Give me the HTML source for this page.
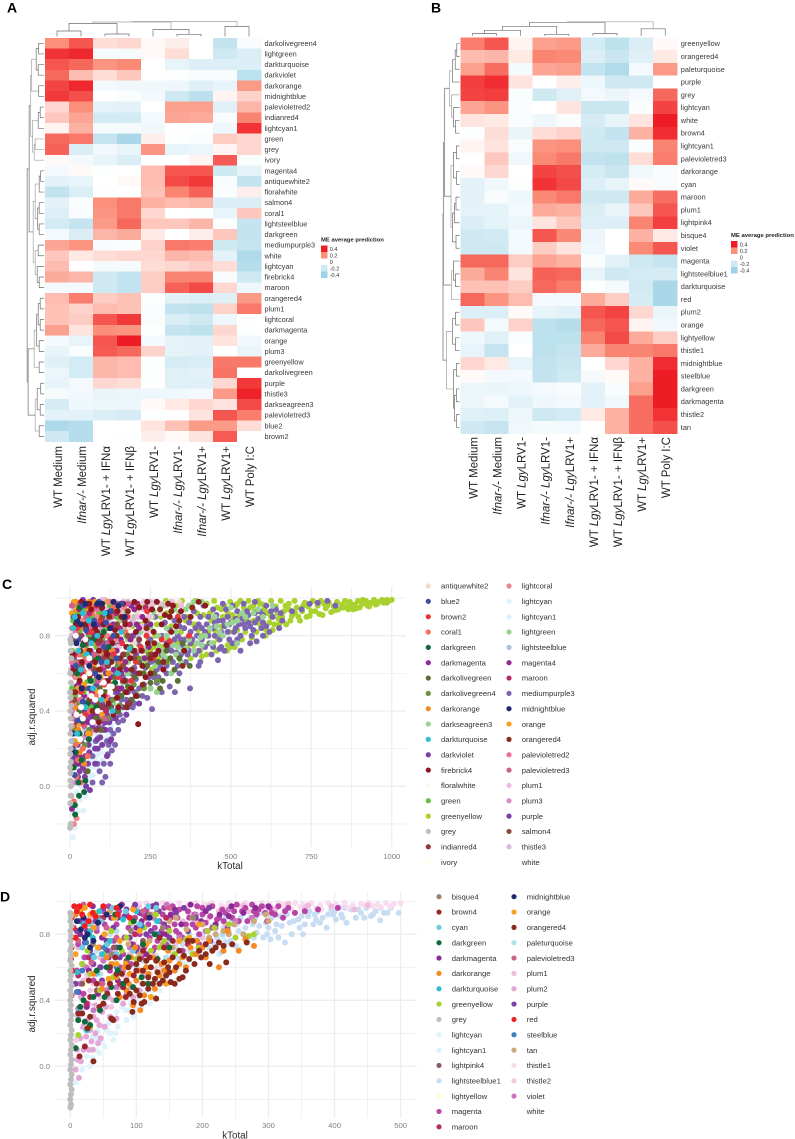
<!DOCTYPE html>
<html lang="en"><head><meta charset="utf-8"><title>ME heatmaps and scale-free fit scatter plots</title>
<style>
html,body{margin:0;padding:0;background:#fff}
svg{display:block;filter:blur(.35px);font-family:"Liberation Sans",sans-serif}
</style></head>
<body>
<svg id="fig" xmlns="http://www.w3.org/2000/svg" width="795" height="1139" viewBox="0 0 795 1139">
<text x="7" y="12.5" font-size="14" font-weight="bold">A</text>
<text x="431" y="12.5" font-size="14" font-weight="bold">B</text>
<text x="2" y="589" font-size="14" font-weight="bold">C</text>
<text x="0" y="901.5" font-size="14" font-weight="bold">D</text>
</svg>
<script>
/* ---------- Heatmap A ---------- */
const aRowLabels=["darkolivegreen4","lightgreen","darkturquoise","darkviolet","darkorange","midnightblue","palevioletred2","indianred4","lightcyan1","green","grey","ivory","magenta4","antiquewhite2","floralwhite","salmon4","coral1","lightsteelblue","darkgreen","mediumpurple3","white","lightcyan","firebrick4","maroon","orangered4","plum1","lightcoral","darkmagenta","orange","plum3","greenyellow","darkolivegreen","purple","thistle3","darkseagreen3","palevioletred3","blue2","brown2"];
const aColLabels=[["","WT Medium"],["Ifnar-/-"," Medium"],["WT ","Lgy","LRV1- + IFNα"],["WT ","Lgy","LRV1- + IFNβ"],["WT ","Lgy","LRV1-"],["Ifnar-/- Lgy","LRV1-"],["Ifnar-/- Lgy","LRV1+"],["WT ","Lgy","LRV1+"],["","WT Poly I:C"]];
const aValues=[
[.2,.3,.06,.07,.01,.03,0,-.25,-.03],[.36,.38,-.04,-.04,.01,.06,0,-.2,-.15],[.3,.27,.19,.21,0,-.1,-.14,-.14,-.14],[.27,.12,.06,.1,0,-.01,-.03,-.03,-.28],
[.33,.38,-.05,-.06,-.06,-.07,-.13,-.1,.18],[.35,.31,0,-.02,-.05,-.2,-.28,.02,.08],[.07,.2,-.11,-.12,0,.17,.17,-.13,.13],[.1,.16,-.18,-.18,-.05,.16,.15,-.03,.22],
[.02,.14,-.04,-.04,-.06,0,-.01,-.07,.36],[.27,.24,-.24,-.35,.03,-.01,-.02,.09,.07],[.28,-.15,-.06,-.1,.19,-.1,-.08,.02,.07],[.01,-.05,-.1,-.15,0,0,.02,.29,-.02],
[-.05,.01,-.01,0,.12,.3,.3,-.2,-.11],[-.12,-.1,0,.01,.12,.32,.35,-.03,-.25],[-.25,-.15,-.01,0,.11,.22,.28,-.02,.03],[-.12,-.02,.2,.24,.14,.12,.13,-.15,-.15],
[-.14,-.03,.19,.24,.07,0,-.01,-.1,.1],[-.18,-.24,.18,.27,.1,.1,.13,-.01,-.24],[-.05,-.15,.13,.15,.04,0,.03,.1,-.25],[.16,.19,-.03,-.02,.08,.24,.23,-.2,-.24],
[.1,.04,.06,.07,.07,.13,.12,-.12,-.33],[.12,0,-.04,-.04,.06,.07,.09,.06,-.3],[.15,.13,-.2,-.25,.09,.22,.22,-.03,-.2],[-.05,-.05,-.2,-.25,.09,.28,.32,.07,-.07],
[.12,.23,.09,.11,-.01,-.12,-.14,-.13,.18],[.11,.08,.12,.11,-.02,-.25,-.27,.08,.24],[.11,.09,.3,.35,-.02,-.15,-.2,-.07,0],[.17,.05,.2,.19,-.01,-.24,-.27,.07,-.01],
[-.05,-.1,.3,.4,-.05,-.11,-.12,.05,-.06],[-.1,-.03,.29,.27,.08,-.11,-.12,0,-.09],[-.13,-.18,.13,.12,-.01,-.17,-.16,.24,.24],[-.08,-.18,.13,.12,-.01,-.13,-.12,.25,0],
[-.1,-.05,.07,.06,-.01,-.13,-.13,.07,.35],[-.04,-.05,-.09,-.08,-.07,-.07,-.05,.18,.39],[-.17,-.07,-.08,-.08,.01,.04,.07,.05,.32],[-.12,-.12,-.15,-.17,-.01,0,.05,.3,.23],
[-.34,-.3,0,0,.05,.11,.18,.18,.06],[-.2,-.3,0,-.01,.03,.01,.05,.29,0]];
const aColTree=[15,[14.5,[13,[5.5,0,1],[2.5,2,3]],[7,4,[2.2,5,6]]],[10,7,8]];
const aRowTree=[17,[15,[13.5,[12.5,[8,[5.5,0,1],[6,2,3]],[5.5,4,5]],[11.5,[6,[4,6,7],8],[10,[9,9,10],11]]],[11,[9,[5,[3.5,12,13],14],[6.5,[5,15,16],[5,17,18]]],[9,[6,19,20],[7,21,[5,22,23]]]]],[16,[10,[7.5,[6,[4,24,25],[4,26,27]],[5,28,29]],[5,30,31]],[9,[7,[3.5,32,33],[4,34,35]],[5,36,37]]]];

/* ---------- Heatmap B ---------- */
const bRowLabels=["greenyellow","orangered4","paleturquoise","purple","grey","lightcyan","white","brown4","lightcyan1","palevioletred3","darkorange","cyan","maroon","plum1","lightpink4","bisque4","violet","magenta","lightsteelblue1","darkturquoise","red","plum2","orange","lightyellow","thistle1","midnightblue","steelblue","darkgreen","darkmagenta","thistle2","tan"];
const bColLabels=[["","WT Medium"],["Ifnar-/-"," Medium"],["WT ","Lgy","LRV1-"],["Ifnar-/- Lgy","LRV1-"],["Ifnar-/- Lgy","LRV1+"],["WT ","Lgy","LRV1- + IFNα"],["WT ","Lgy","LRV1- + IFNβ"],["WT ","Lgy","LRV1+"],["","WT Poly I:C"]];
const bValues=[
[.23,.3,.02,.17,.18,-.18,-.27,-.15,.01],[.12,.13,.04,.22,.21,-.15,-.22,-.13,.04],[.17,.26,-.04,.16,.17,-.25,-.32,-.05,.18],[.34,.37,.05,0,.03,-.07,-.2,-.2,0],
[.33,.34,-.02,-.2,-.13,-.05,-.08,-.05,.27],[.16,.19,-.02,0,.05,-.22,-.22,-.02,.33],[.05,.04,-.03,-.07,-.02,-.17,-.1,.05,.4],[-.01,.06,-.09,.06,.08,-.2,-.25,.14,.37],
[.02,.05,-.02,.19,.2,-.2,-.2,-.02,.22],[0,.1,-.06,.21,.24,-.25,-.27,.06,.23],[.01,.07,0,.33,.31,-.17,-.22,-.06,-.03],[-.12,-.06,-.01,.36,.32,-.14,-.1,.01,-.03],
[-.12,-.03,-.07,.21,.24,-.2,-.2,.15,.26],[-.11,-.11,-.05,.15,.14,-.15,-.09,.1,.3],[-.15,-.11,-.08,.05,.1,-.14,-.14,.22,.34],[-.2,-.19,-.05,.3,.21,-.08,0,.14,.04],
[-.2,-.2,-.05,.09,.05,-.07,0,.21,.3],[.27,.27,.09,.16,.14,-.02,-.12,-.2,-.24],[.15,.22,.05,.28,.27,-.1,-.2,-.18,-.17],[.11,.11,.09,.27,.23,-.01,-.04,-.19,-.35],
[.27,.19,.12,-.05,-.05,.15,.09,-.17,-.35],[-.14,-.14,.01,-.1,-.12,.3,.33,.07,-.09],[.1,-.05,.08,-.27,-.3,.27,.3,.02,-.06],[-.07,-.13,-.02,-.28,-.27,.22,.32,.15,.09],
[-.1,-.24,0,-.27,-.24,.15,.22,.22,.24],[.07,.04,-.1,-.25,-.22,0,.07,.14,.37],[.01,-.05,-.05,-.25,-.2,-.04,.01,.14,.4],[-.08,-.09,-.07,-.05,-.03,-.12,-.03,.17,.4],
[-.08,-.04,-.12,-.07,-.05,-.12,-.06,.26,.4],[-.13,-.14,-.07,-.2,-.18,.04,.14,.26,.36],[-.2,-.24,-.06,-.04,-.05,0,.14,.26,.31]];
const bColTree=[14,[13.5,[9.5,[5.5,[2.2,0,1],2],[1.5,3,4]],[2.2,5,6]],[7,7,8]];
const bRowTree=[16.5,[16,[15,[10,[7,[4.3,[2.7,0,1],2],3],[8,4,[6,5,[4,6,7]]]],[8.5,[6,[3,8,9],[3,10,11]],[7,[5,[3.5,12,13],14],[3.5,15,16]]]],[8,[6,17,[4,18,19]],20]],[13,[7,[4,21,22],[4,23,24]],[6,[3,25,26],[5,[3,27,28],[3,29,30]]]]];

const legendValues=[.4,.2,0,-.2,-.4];

/* ---------- Scatter C (kTotal, adj.r.squared pairs) ---------- */
const cLightcyan=[10,-.27,15,-.22,8,-.14,25,-.13,42,-.13,32,-.07,20,-.03,48,-.05,55,0,12,.02,30,.03,60,.05,40,.08,70,.1,85,.1,100,.14,110,.17,95,.2,75,.2,60,.16,50,.22,85,.25,105,.25,70,.28,90,.3,45,.3,120,.28,65,.12,78,.15,52,.1,88,.17,38,.16,102,.22,115,.26,96,.27,80,.31,68,.22,24,.11,34,.24,56,.32,74,.36,92,.38,110,.36,128,.32,62,.2,46,.14,82,.2];
const cLightcyan1=[18,-.1,35,0,22,.06,65,.14,80,.16,38,.15,28,.2,92,.18,62,.26,112,.22,78,.33,98,.36,55,.38,72,.06,44,.02,58,.11,108,.3,125,.33,90,.24,50,.27,66,.34,84,.28,104,.4,118,.42,140,.36];
const cGrey=[2,-.2,0,-.22,3,-.2,1,-.09,2,-.05,3,0,1,.03,2,.07,0,.1,3,.13,1,.17,2,.2,4,.24,1,.28,3,.32,2,.36,1,.4,4,.43,2,.47,0,.5,3,.55,1,.6,4,.68,2,.72,3,.76,1,.78];
const cGreenyellow=[1000,.99,990,.985,985,.99,975,.975,970,.99,960,.98,950,.965,945,.99,935,.975,925,.96,920,.985,910,.97,900,.95,895,.985,885,.965,880,.94,870,.98,860,.955,855,.985,845,.965,835,.94,830,.98,820,.955,812,.925,805,.975,795,.945,785,.91,780,.985,770,.96,762,.93,755,.985,745,.905,740,.955,730,.975,722,.93,715,.88,705,.95,698,.985,690,.905,680,.97,672,.86,665,.93,655,.985,648,.89,640,.955,630,.83,625,.985,615,.92,608,.8,600,.965,590,.86,585,.985,575,.93,565,.79,555,.985,548,.88,540,.95,530,.985,520,.83,512,.74,505,.91,498,.98,488,.72,480,.96,472,.85,465,.8,458,.95,448,.985,440,.88,432,.76,425,.97,415,.91,405,.72,398,.83,390,.985,380,.95,372,.87,365,.74,355,.78,348,.985,340,.92,330,.7,322,.95,315,.85,305,.78,298,.985,290,.74,282,.9,275,.68,265,.8,258,.97,250,.72,240,.88,230,.6,222,.95,215,.75,205,.5,195,.85,910,.99,870,.96,790,.97,750,.93,700,.92,660,.9,620,.87,570,.88,535,.78,495,.82,455,.72,420,.82,385,.75,345,.82,310,.66,245,.78,225,.68,985,.975,955,.97,930,.955,905,.98,890,.945,865,.94,850,.95,825,.935,800,.96,775,.915,735,.9,710,.9,685,.88,670,.96,645,.92,635,.86,610,.83,595,.9,580,.82,560,.95,545,.82,525,.9,515,.96,500,.74,475,.9,450,.83,435,.92,410,.69,395,.92,375,.68,360,.88,335,.76,300,.92,270,.86,255,.62,235,.72,210,.9,725,.96,680,.94,650,.86,625,.9,605,.94,590,.97,570,.96,550,.9,520,.97,505,.88,490,.92,470,.94,445,.76,425,.7,405,.8,385,.86,365,.9,330,.96,310,.9,285,.96,260,.74,240,.66,220,.86,200,.8,180,.9,490,.75,460,.78,430,.82];
const cMediumpurple=[373,.52,326,.5,310,.53,255,.41,340,.6,400,.64,405,.66,460,.67,470,.74,530,.72,580,.77,620,.82,650,.84,600,.8,560,.76,505,.76,480,.72,440,.7,420,.74,390,.7,360,.66,300,.6,285,.5,270,.55,240,.47,220,.6,200,.5,180,.42,165,.35,150,.3,140,.22,130,.19,125,.12,110,.05,100,.02,420,.82,450,.8,480,.85,510,.82,540,.86,570,.83,600,.87,630,.9,660,.88,690,.93,720,.94,745,.97,770,.975,800,.985,825,.96,590,.93,555,.91,520,.93,490,.9,460,.88,430,.9,400,.86,375,.82,350,.75,330,.71,300,.76,275,.72,250,.66,225,.72,200,.63,175,.56,160,.46,145,.4,125,.3,115,.24,640,.94,610,.96,575,.98,540,.97,505,.96,475,.97,445,.94,415,.96,385,.93,355,.9,325,.88,295,.87,265,.9,235,.85,560,.85,530,.8,495,.78,465,.78,435,.76,410,.78,380,.78,345,.7,315,.72,280,.64,260,.58,230,.54,190,.6,170,.7,70,.02,85,.12,60,.25,95,.3,75,.42,105,.5,130,.6,150,.75,120,.9,610,.85,585,.89,565,.8,545,.84,525,.86,500,.87,470,.82,445,.84,425,.86,395,.8,370,.72,355,.84,335,.8,320,.66,295,.68,270,.62,245,.58,215,.52,195,.42,175,.46,155,.38,135,.28,118,.17,105,.12,92,.08,655,.92,625,.93,600,.91,575,.87,550,.93,515,.89,485,.94,455,.91,405,.9,370,.87,340,.85,310,.83,285,.8,250,.78,210,.76,185,.68,165,.58,140,.5,115,.42,95,.45,80,.24,70,.16,88,.36,102,.33,595,.84,575,.92,555,.87,535,.89,515,.84,495,.86,475,.88,450,.87,430,.8,410,.84,390,.84,375,.76,360,.78,345,.78,325,.78,305,.74,285,.7,265,.66,235,.63,205,.57,180,.5,150,.48,130,.36,110,.34,520,.78,490,.82,465,.73,445,.74,400,.72,365,.7,335,.64,300,.64,275,.58,250,.52,225,.48,200,.44,175,.38,150,.34,120,.22];
const cSeagreen=[350,.72,370,.78,395,.76,420,.8,440,.76,465,.82,490,.86,520,.88,545,.9,570,.92,600,.9,630,.96,330,.7,300,.68,275,.8,255,.9,240,.74,220,.82,200,.9,180,.78,340,.92,370,.96,450,.9,500,.95,160,.68,130,.8,110,.92,95,.62,385,.72,410,.75,455,.85,505,.87,535,.92,585,.94,320,.75,290,.72,265,.7,210,.68,335,.74,360,.73,405,.79,435,.84,475,.8,520,.76,300,.8,250,.84];
const cLightgreen=[60,.98,85,.96,110,.9,140,.95,170,.92,200,.86,235,.97,260,.93,290,.96,120,.7,150,.74,180,.66,205,.72,235,.58,265,.64,90,.82,70,.7,45,.84,100,.5,135,.44,30,.64,20,.96,125,.98,155,.88,185,.97,215,.95,250,.84,275,.75,300,.84,325,.94,165,.55,190,.52,110,.6,80,.55,55,.45,40,.95,75,.9,145,.66,225,.66,250,.52,330,.82,360,.94,290,.7,315,.6,270,.5,215,.6,180,.6,345,.66,385,.98,410,.98];
const cAntique=[15,.95,30,.9,45,.98,62,.8,78,.93,95,.85,112,.97,130,.9,150,.8,170,.98,190,.7,210,.92,240,.97,20,.72,40,.66,70,.55,100,.6,135,.56,165,.5,55,.9,88,.91,105,.79,122,.86,142,.94,160,.88,182,.84,200,.76,225,.84,262,.98,280,.92,12,.82,35,.78,60,.72,300,.97,320,.98,340,.98,250,.9];
const cBlue2=[12,.9,26,.78,40,.96,58,.7,75,.88,90,.98,105,.74,125,.93,145,.68,160,.97,8,.2,14,.06,25,.35,40,.45,60,.52,50,.83,98,.66,135,.8,112,.87,78,.6,18,.64];
const cBrown2=[10,.62,22,.84,35,.5,52,.96,70,.6,88,.78,106,.54,122,.85,150,.58,178,.9,205,.66,238,.8,5,.44,28,.28,48,.38,310,.77,240,.93,65,.82,95,.88,135,.7,162,.76,190,.56,220,.74,258,.68,285,.78,335,.9,370,.8];
const cCoral=[8,.5,18,.22,28,.7,42,.88,55,.16,68,.92,80,.48,96,.67,115,.8,135,.95,155,.66,6,.1,20,.05,33,.02,12,-.08,48,.68,62,.4,88,.97,105,.72,172,.82,25,.14,40,.2];
const cDarkgreen=[12,.1,18,.18,26,.02,36,.14,28,-.05,15,-.1,44,-.03,48,.03,30,.28,58,.25,22,.6,40,.75,64,.56,88,.68,105,.82,30,.95,16,-.15,72,.78,52,.44,38,.35,82,.42,120,.74,140,.55];
const cDarkmagenta=[8,.24,14,.38,20,.53,30,.7,38,.92,48,.16,56,.34,66,.6,75,.8,85,.5,95,.94,108,.42,120,.7,135,.86,150,.52,175,.62,190,.96,6,-.12,12,.68,26,.12,44,.48,62,.9,100,.74,128,.58,158,.78,208,.86,232,.68,25,.42,72,.36,95,.42,125,.46,205,.6,250,.86];
const cOlive=[30,.4,48,.6,65,.46,80,.36,96,.3,110,.5,125,.42,140,.58,160,.48,180,.53,200,.58,228,.6,250,.55,275,.66,300,.72,325,.62,350,.76,40,.14,55,.08,72,.68,92,.52,118,.6,152,.66,172,.5,192,.46,215,.66,240,.64,262,.6,288,.56,312,.68,340,.68,372,.64,335,.56,280,.52,210,.48,150,.4];
const cOlive4=[35,.62,50,.75,72,.9,88,.58,102,.7,118,.36,133,.46,148,.64,168,.56,188,.74,212,.68,46,.22,60,.3,25,.44,15,.3,58,.52,82,.76,110,.56,125,.68,155,.43,178,.7,198,.54,245,.7,230,.52,270,.56,300,.66,100,.36];
const cDarkorange=[8,.32,16,.42,26,.3,38,.58,50,.72,62,.28,74,.64,86,.42,28,.97,18,.98,60,.98,100,.9,120,.6,8,.96,44,.12,30,.18,55,.6,70,.95,42,.84,110,.46,132,.72];
const cDarkturquoise=[10,.84,22,.28,34,.62,48,.42,58,.88,72,.52,85,.8,98,.46,115,.66,132,.4,160,.82,185,.73,6,.24,15,.9,40,.92,26,.72,52,.7,66,.76,108,.92,148,.6];
const cDarkviolet=[14,.16,24,.44,34,.24,44,.6,54,.36,64,.72,78,.2,92,.38,105,.63,122,.34,138,.72,160,.6,195,.8,25,.05,40,.1,50,.0,62,-.02,70,.32,85,.25,100,.22,115,.38,130,.46,148,.5,175,.38,35,.52,58,.22,82,.54,178,.74,205,.7,40,.34,68,.44,88,.31,110,.3,128,.25,165,.42,190,.46,215,.44];
const cFirebrick=[18,.86,30,.56,42,.76,54,.44,66,.94,78,.66,90,.34,104,.86,118,.56,132,.76,146,.47,160,.9,175,.74,190,.52,205,.82,212,.33,225,.64,242,.76,255,.94,270,.98,285,.86,300,.75,320,.96,345,.93,420,.96,165,.97,200,.98,8,.7,25,.9,12,.62,37,.66,60,.72,84,.82,100,.95,115,.7,140,.83,155,.62,172,.86,188,.68,222,.72,235,.88,260,.82,275,.72,295,.91,330,.85,60,.97,35,.98,128,.66,148,.93,215,.95,250,.6,195,.72,78,.84,48,.86,105,.48,135,.38,90,.72,240,.98,310,.9,175,.5,205,.48,235,.58,265,.7,290,.62,315,.82,355,.72,375,.9,400,.98,120,.44,150,.42];
const cFloral=[14,.55,40,.4,78,.72,110,.62,150,.88,60,.95,95,.34,125,.82,200,.96];
const cGreen=[6,.72,12,.78,18,.66,24,.58,30,.82,36,.94,42,.5,50,.68,58,.8,66,.42,74,.56,82,.74,90,.92,20,.97,45,.94,8,.6,16,.48,28,.7,125,.96,70,.9,100,.78,10,.88,22,.92,38,.7,54,.56,78,.5,95,.62,112,.84,145,.9,6,.52,34,.46,62,.64,118,.64,150,.6,175,.8];
const cIndian=[8,.78,24,.62,40,.52,60,.46,82,.3,100,.42,118,.64,140,.52,165,.7,185,.44,215,.78,252,.7,50,.76,130,.93,170,.88,95,.77];
const cLightcoral=[6,.84,16,.58,30,.36,46,.78,66,.62,84,.9,102,.56,122,.98,142,.78,168,.95,20,-.17,12,-.2,5,.36,38,.88,58,.96,92,.7,112,.8,12,.44];
const cSteel=[10,.42,24,.92,38,.7,56,.56,72,.97,90,.66,110,.95,48,.3,88,.26,60,.4,130,.74,155,.92,180,.98,210,.8];
const cMagenta4=[10,.64,22,.34,36,.8,48,.52,62,.98,76,.38,90,.72,104,.3,118,.84,136,.62,152,.96,172,.66,200,.94,225,.9,16,.12,50,.08,30,.16,42,.7,68,.66,84,.58,98,.88,112,.6,128,.42,145,.72,160,.52,188,.78,215,.84,26,.54,180,.44,245,.74];
const cMaroon=[14,.7,28,.94,40,.34,54,.82,68,.5,82,.96,96,.62,112,.4,126,.78,144,.92,164,.56,186,.86,210,.97,36,.6,60,.92,88,.76,105,.68,135,.98,155,.84,235,.95];
const cMidnight=[10,.28,20,.76,34,.86,48,.97,60,.64,74,.86,90,.58,112,.92,135,.98,170,.9,22,.88,36,.52,85,.97,6,.18,50,.78,100,.97,150,.96,125,.84];
const cOrange=[6,.92,12,.98,22,.94,32,.86,44,.54,56,.28,70,.76,84,.5,100,.38,38,.96,28,.24,30,.33,16,.24,10,.36,25,.52,58,.94,78,.98,95,.58,115,.98];
const cOrangered=[16,.5,32,.72,50,.84,70,.4,90,.62,112,.72,134,.54,156,.68,176,.42,200,.72,226,.54,250,.68,280,.94,305,.97,4,.6,180,.93,315,.93,60,.58,78,.78,98,.8,122,.9,145,.8,170,.56,192,.62,215,.6,238,.84,262,.76,290,.66,340,.88,380,.95,350,.64];
const cPvr2=[6,.66,18,.82,32,.46,52,.66,72,.34,94,.74,116,.48,6,.4,40,.62,62,.84,82,.94,125,.92];
const cPvr3=[10,.36,26,.66,44,.32,64,.86,86,.56,108,.36,130,.9,6,.96,30,.97,150,.97,180,.97,50,.9,75,.7,102,.64,118,.76,145,.86];
const cPlum1=[8,.48,20,.9,34,.74,48,.92,62,.48,76,.66,90,.88,106,.8,122,.68,140,.98,158,.92,178,.97,198,.95,222,.85,245,.9,268,.98,95,.97,130,.98,70,.97,16,.78,42,.58,56,.76,84,.7,100,.99,115,.94,132,.84,152,.74,165,.98,185,.9,210,.9,230,.98,252,.96,280,.97,300,.96,36,.97,315,.98,345,.96,190,.78,215,.72,240,.82];
const cPlum3=[6,.3,16,.02,28,.4,42,.26,58,.72,74,.3,92,.52,4,-.05,10,-.1,7,.14,112,.88,135,.96,22,.5,46,.66,68,.84,84,.46,100,.84,125,.6];
const cPurple=[12,.32,24,.22,36,.34,46,.05,60,.18,72,.48,86,.2,100,.44,20,.93,55,.9,72,.99,120,.98,40,.99,88,.86,34,.84,10,.14,30,.08,52,.28,66,.38,78,.12,94,.26,108,.34,125,.24,142,.36,56,.12,112,.76,140,.68,44,.4,60,.42,80,.44,96,.36,115,.16,20,.3];
const cSalmon=[14,.46,36,.64,60,.78,88,.44,116,.68,146,.86,180,.8,28,.8,75,.62,100,.9,132,.52,165,.64,200,.68];
const cThistle=[8,.9,22,.7,40,.88,58,.6,78,.94,98,.74,120,.88,144,.96,168,.84,195,.88,230,.94,5,.8,3,.62,14,.94,30,.6,50,.97,68,.8,108,.99,132,.92,155,.94,180,.98,210,.97,250,.98];
const cIvory=[30,.8,65,.35,100,.96,140,.64];
const cWhite=[20,.38,32,.25,45,.58,60,.6,66,.48,78,.46,86,.4,105,.55,18,.8,48,.78,70,.34,130,.53,95,.5,40,.36,125,.5,60,.68,34,.42];
const cDrawOrder=[["lightcyan",cLightcyan],["lightcyan1",cLightcyan1],["greenyellow",cGreenyellow],["mediumpurple3",cMediumpurple],["darkseagreen3",cSeagreen],["lightsteelblue",cSteel],["antiquewhite2",cAntique],["floralwhite",cFloral],["ivory",cIvory],["lightgreen",cLightgreen],["thistle3",cThistle],["plum1",cPlum1],["plum3",cPlum3],["darkviolet",cDarkviolet],["purple",cPurple],["magenta4",cMagenta4],["darkmagenta",cDarkmagenta],["darkolivegreen",cOlive],["darkolivegreen4",cOlive4],["green",cGreen],["darkorange",cDarkorange],["orange",cOrange],["coral1",cCoral],["lightcoral",cLightcoral],["palevioletred2",cPvr2],["palevioletred3",cPvr3],["maroon",cMaroon],["brown2",cBrown2],["salmon4",cSalmon],["indianred4",cIndian],["orangered4",cOrangered],["firebrick4",cFirebrick],["darkgreen",cDarkgreen],["blue2",cBlue2],["midnightblue",cMidnight],["darkturquoise",cDarkturquoise],["white",cWhite],["grey",cGrey]];
const cLegend=["antiquewhite2","blue2","brown2","coral1","darkgreen","darkmagenta","darkolivegreen","darkolivegreen4","darkorange","darkseagreen3","darkturquoise","darkviolet","firebrick4","floralwhite","green","greenyellow","grey","indianred4","ivory","lightcoral","lightcyan","lightcyan1","lightgreen","lightsteelblue","magenta4","maroon","mediumpurple3","midnightblue","orange","orangered4","palevioletred2","palevioletred3","plum1","plum3","purple","salmon4","thistle3","white"];
const cXTicks=[0,250,500,750,1000];
const cXMinor=[125,375,625,875];
const cYTicks=[0,.4,.8];
const cYMinor=[-.2,.2,.6,1];

/* ---------- Scatter D (kTotal, adj.r.squared pairs) ---------- */
const dLightcyan=[8,-.1,18,-.02,30,0,14,.05,25,.06,38,.1,48,.15,65,.16,55,.22,42,.22,72,.24,85,.28,96,.3,62,.3,78,.36,108,.36,128,.42,115,.46,90,.42,140,.5,34,.05,52,.12,60,.2,70,.33,100,.35,120,.38,135,.46,150,.52,44,.08,68,.2,88,.34,104,.44,124,.46,158,.58,172,.62];
const dLightcyan1=[22,.12,34,.18,50,.24,68,.28,84,.34,100,.4,75,.42,120,.5,150,.56,165,.6,180,.64,198,.68,215,.72,255,.72,40,.17,58,.26,92,.38,110,.44,130,.52,160,.66,175,.7,225,.68,240,.74,142,.56,188,.7,205,.76,232,.78];
const dPlum2=[8,-.02,13,-.07,11,.04,16,.03,10,.1,20,.1,28,.1,34,.1,15,.17,24,.18,32,.15,42,.14,46,.17,38,.2,18,.24,26,.28,44,.25,52,.24,60,.3,70,.29,35,.3,48,.33,80,.38,95,.42,12,.3,22,.36,58,.42,70,.46,30,.22,40,.28,54,.36,65,.4,85,.44,105,.46,16,.42,36,.38,75,.5,92,.48,110,.55];
const dThistle2=[9,.16,18,.34,30,.38,45,.42,62,.36,30,.46,75,.48,90,.5,108,.5,50,.5,14,.45,25,.55,40,.35,58,.48,82,.55,120,.56,140,.58,35,.5,66,.55,100,.58,128,.6];
const dLsb=[497,.93,485,.96,475,.93,469,.885,462,.94,455,.91,448,.96,440,.93,432,.9,425,.95,418,.87,410,.92,402,.89,395,.95,388,.84,382,.9,375,.94,368,.86,360,.91,352,.8,347,.84,340,.93,332,.87,325,.75,318,.91,310,.82,303,.77,296,.87,290,.93,282,.81,276,.86,268,.76,258,.9,250,.73,240,.82,228,.69,215,.85,205,.66,190,.77,175,.6,160,.72,145,.55,130,.67,115,.5,100,.72,85,.6,70,.66,470,.96,445,.9,415,.96,398,.92,372,.89,345,.89,320,.85,298,.8,262,.8,235,.75,200,.8,165,.65,125,.8,95,.85,60,.8,40,.7,480,.93,458,.92,436,.95,412,.9,390,.92,378,.87,362,.94,355,.86,338,.88,328,.92,312,.86,305,.9,286,.85,272,.9,255,.82,245,.88,222,.78,210,.72,182,.7,150,.64,138,.6,335,.8,315,.78,300,.84,292,.78,278,.78,265,.84,252,.86,242,.76,232,.84,218,.74,195,.72,170,.74,155,.68,110,.64,400,.94,370,.92,350,.91,325,.95,280,.9,235,.9];
const dThistle1=[500,.99,490,.985,478,.99,465,.98,452,.99,440,.985,428,.975,415,.99,402,.98,390,.99,378,.975,365,.99,352,.98,340,.99,328,.97,315,.99,302,.98,290,.99,278,.975,265,.99,252,.98,240,.99,228,.975,215,.99,202,.98,190,.99,178,.975,165,.99,152,.98,140,.99,128,.97,115,.99,105,.985,470,.965,420,.96,380,.95,335,.95,295,.96,245,.96,205,.95,155,.94,484,.97,458,.97,445,.975,408,.965,372,.96,348,.965,322,.98,308,.96,284,.965,258,.97,234,.965,196,.96,172,.96,146,.965,120,.96];
const dPlum1=[430,.95,405,.96,355,.96,310,.95,270,.94,225,.94,180,.93,125,.92,80,.9,50,.78,30,.6,20,.52,65,.62,90,.68,115,.74,150,.82,190,.88,30,.9,12,.72,450,.975,395,.97,360,.975,330,.985,298,.97,262,.975,210,.975,105,.96,140,.86,170,.88,210,.9,75,.76,45,.66,100,.6,160,.75,130,.66,85,.54,60,.52,40,.44,200,.78,235,.86];
const dPaleturq=[20,.66,45,.56,70,.82,100,.6,130,.88,165,.7,200,.92,230,.8,55,.74,85,.52,145,.66,180,.8,120,.66,150,.76];
const dLightyellow=[25,.5,55,.92,85,.75,120,.6,155,.85,210,.75,40,.8,100,.9];
const dWhite=[2,.24,8,.24,14,.5,30,.72,40,.92,55,.6,75,.58,95,.78,110,.95,135,.96,150,.72,20,.88,6,.52,35,.4,12,.25,70,.45,60,.74,125,.62];
const dMagenta=[330,.96,322,.9,315,.97,305,.93,298,.88,290,.97,282,.92,275,.98,268,.88,260,.94,252,.98,245,.9,238,.84,230,.95,222,.89,215,.97,208,.82,200,.92,192,.97,185,.86,178,.94,170,.78,162,.9,155,.97,148,.84,140,.92,132,.76,125,.97,118,.86,110,.92,102,.72,96,.96,88,.84,80,.68,74,.94,66,.76,58,.97,52,.86,44,.72,36,.92,28,.8,22,.66,16,.96,12,.74,10,.58,160,.82,195,.8,125,.7,92,.62,60,.58,35,.52,20,.44,375,.95,405,.96,355,.94,340,.93,310,.92,285,.95,255,.88,235,.93,212,.91,188,.92,165,.95,142,.96,115,.95,85,.92,50,.94,70,.86,105,.8,128,.84,152,.9,175,.86,205,.87,232,.88,265,.96,295,.93,45,.6,75,.6,112,.72,145,.74,170,.7,195,.74,25,.88,62,.82,135,.88,98,.9,40,.82,325,.94,302,.96,278,.94,248,.94,225,.9,200,.96,180,.9,158,.86,138,.82,120,.78,95,.74,82,.78,68,.68,55,.66,215,.84,190,.84,165,.8,150,.78,128,.72,108,.66];
const dDarkmagenta=[20,.9,34,.97,48,.78,62,.9,78,.98,92,.74,108,.88,124,.97,138,.8,152,.92,168,.86,182,.98,198,.88,212,.76,226,.92,244,.97,262,.93,280,.96,12,.45,28,.58,42,.44,58,.66,72,.52,25,.36,15,.8,40,.88,55,.76,70,.72,85,.95,100,.84,118,.92,132,.94,158,.95,178,.82,205,.94,220,.86,240,.91,300,.97,115,.68,145,.8];
const dPurple=[14,.88,25,.82,38,.88,50,.96,65,.84,82,.91,98,.98,115,.8,134,.94,150,.78,172,.96,18,.62,30,.7,46,.6,62,.96,8,.5,130,.98,210,.96,22,.75,35,.62,55,.7,72,.9,90,.78,105,.93,122,.82,142,.86,160,.93,190,.9,10,.82,48,.52,75,.66,100,.7];
const dViolet=[15,.5,24,.6,40,.84,60,.7,80,.58,104,.66,126,.9,146,.98,190,.92,220,.84,250,.88,275,.9,12,.35,35,.34,50,.64,90,.72,115,.9,165,.78,205,.82,240,.95,70,.48,55,.46];
const dTan=[60,.94,95,.88,128,.92,150,.88,176,.83,200,.86,210,.78,232,.82,248,.86,262,.8,296,.92,300,.88,120,.76,88,.74,160,.9,140,.74,185,.9,220,.8,240,.8,278,.88,155,.72,105,.68];
const dGreenyellow=[12,.19,26,.7,38,.93,50,.68,62,.82,78,.7,92,.87,100,.65,112,.84,130,.92,142,.76,158,.68,175,.77,194,.72,208,.82,250,.78,278,.8,270,.79,30,.56,18,.62,240,.86,68,.9,85,.78,122,.7,150,.82,218,.84,45,.46,65,.54,135,.72,185,.68];
const dDarkorange=[8,.92,28,.24,35,.56,48,.47,62,.62,75,.42,88,.5,92,.66,98,.72,105,.58,95,.37,106,.34,118,.56,128,.47,138,.62,148,.7,158,.58,170,.66,182,.72,192,.76,205,.66,215,.7,225,.6,238,.82,255,.7,278,.73,82,.6,112,.43,125,.66,135,.55,150,.64,175,.6,200,.72,70,.54,55,.66,100,.52,85,.46,115,.6,142,.58,165,.62,190,.68,210,.76,232,.7,265,.77];
const dOrange=[8,.68,15,.94,22,.96,30,.92,42,.72,52,.8,66,.9,84,.62,105,.82,122,.42,145,.5,165,.76,30,.24,58,.53,195,.86,35,.84,75,.76,95,.95,180,.78,70,.62,90,.56,115,.74];
const dOrangered=[35,.03,18,.32,26,.23,30,.3,62,.29,65,.28,94,.33,96,.39,108,.38,112,.39,100,.46,110,.5,118,.54,125,.5,128,.53,130,.41,135,.5,140,.52,145,.55,150,.57,152,.51,158,.5,165,.53,170,.54,122,.6,100,.62,105,.65,115,.64,130,.64,142,.63,160,.6,175,.58,180,.65,188,.62,195,.7,205,.68,211,.62,215,.7,220,.72,232,.73,236,.63,245,.74,267,.75,205,.74,178,.76,165,.7,185,.76,60,.5,78,.56,90,.44,88,.6,50,.38,105,.43,118,.47,132,.57,148,.6,172,.67,198,.66,225,.75,72,.44,85,.52,110,.58,155,.66];
const dBrown=[14,.06,22,.12,12,.32,30,.42,44,.36,56,.44,70,.56,80,.48,96,.55,84,.42,100,.58,120,.66,142,.72,155,.76,40,.5,60,.6,110,.7,135,.78,28,.52,68,.66];
const dDarkgreen=[8,.11,12,.28,22,.27,30,.25,20,.4,35,.42,52,.42,72,.58,88,.66,70,.4,80,.5,95,.48,118,.5,132,.65,150,.72,128,.8,96,.88,68,.92,40,.58,55,.6,62,.48,108,.54,15,.36,45,.34,75,.72,110,.74];
const dMaroon=[12,.55,28,.66,50,.9,75,.5,98,.8,145,.9,178,.74,25,.38,60,.76,115,.9];
const dRed=[2,.43,3,.58,2,.72,1,.65,3,.78,2,.9,6,.97,10,.94,18,.92,34,.93,38,.91,70,.96,72,.92,14,.97,22,.85,5,.84,30,.98,90,.9,8,.78,28,.88,50,.97];
const dMidnight=[10,.88,16,.83,22,.78,26,.8,30,.72,42,.87,55,.92,75,.97,120,.9,20,.9,35,.76];
const dCyan=[12,.33,24,.22,28,.23,40,.56,56,.74,30,.86,64,.96,84,.94,118,.97,130,.96,95,.7,46,.88,18,.72,70,.68,105,.86,36,.66];
const dDarkturq=[10,.57,20,.86,30,.82,44,.94,60,.76,80,.89,100,.94,132,.88,26,.22,34,.78,48,.68,28,.8];
const dPvr3=[12,.76,32,.63,48,.5,70,.78,90,.9,20,.98,150,.96,55,.84,110,.94];
const dPink4=[18,.5,40,.46,66,.72,110,.76,85,.64];
const dBisque=[34,.74,62,.68,92,.82,120,.92,186,.9,45,.9,140,.84];
const dSteel=[10,.45,18,.58,34,.67,52,.72,70,.6,108,.85,132,.8,24,.75];
const dGrey=[0,-.25,1,-.23,0,-.2,1,-.17,2,-.14,0,-.11,1,-.08,2,-.05,0,-.02,1,.01,2,.04,0,.07,1,.1,2,.13,0,.16,1,.19,2,.22,0,.25,1,.28,2,.31,0,.34,1,.37,0,.4,1,.43,0,.46,2,.49,0,.52,1,.55,0,.58,2,.61,0,.64,1,.67,0,.7,2,.73,0,.76,1,.79,0,.82,2,.85,0,.88,1,.91,0,.93];
const dDrawOrder=[["lightcyan",dLightcyan],["lightcyan1",dLightcyan1],["lightsteelblue1",dLsb],["thistle1",dThistle1],["plum1",dPlum1],["plum2",dPlum2],["thistle2",dThistle2],["paleturquoise",dPaleturq],["lightyellow",dLightyellow],["white",dWhite],["magenta",dMagenta],["violet",dViolet],["darkmagenta",dDarkmagenta],["purple",dPurple],["tan",dTan],["bisque4",dBisque],["lightpink4",dPink4],["palevioletred3",dPvr3],["maroon",dMaroon],["greenyellow",dGreenyellow],["steelblue",dSteel],["cyan",dCyan],["darkturquoise",dDarkturq],["midnightblue",dMidnight],["orange",dOrange],["darkorange",dDarkorange],["brown4",dBrown],["darkgreen",dDarkgreen],["orangered4",dOrangered],["red",dRed],["grey",dGrey]];
const dLegend=["bisque4","brown4","cyan","darkgreen","darkmagenta","darkorange","darkturquoise","greenyellow","grey","lightcyan","lightcyan1","lightpink4","lightsteelblue1","lightyellow","magenta","maroon","midnightblue","orange","orangered4","paleturquoise","palevioletred3","plum1","plum2","purple","red","steelblue","tan","thistle1","thistle2","violet","white"];
const dXTicks=[0,100,200,300,400,500];
const dXMinor=[50,150,250,350,450];
const dYTicks=[0,.4,.8];
const dYMinor=[-.2,.2,.6,1];

const seriesColor={antiquewhite2:"#f0dcc8",blue2:"#3a4fa8",brown2:"#e8363c",coral1:"#f5705a",darkgreen:"#0e6a3a",darkmagenta:"#8b2a96",darkolivegreen:"#5a6e35",darkolivegreen4:"#6e9040",darkorange:"#f58a22",darkseagreen3:"#9ad29a",darkturquoise:"#2fbfd0",darkviolet:"#7b3fa6",firebrick4:"#8c1820",floralwhite:"#fdf8ec",green:"#63c040",greenyellow:"#a9d22f",grey:"#bdbdbd",indianred4:"#8f3a40",ivory:"#fffff0",lightcoral:"#f08488",lightcyan:"#e0f3fa",lightcyan1:"#ddf0fb",lightgreen:"#95d588",lightsteelblue:"#aec2e4",magenta4:"#912b90",maroon:"#b82a66",mediumpurple3:"#7d64b0",midnightblue:"#1f2a70",orange:"#f9a01e",orangered4:"#8a2a1c",palevioletred2:"#ee6f9c",palevioletred3:"#cf5f8c",plum1:"#eebcdc",plum3:"#d090c8",purple:"#7e3fa5",salmon4:"#8f4a38",thistle3:"#d5bcd8",white:"#ffffff",bisque4:"#9b8270",brown4:"#99252e",cyan:"#6dcbe0",lightpink4:"#8f5a60",lightsteelblue1:"#c8ddf3",lightyellow:"#fdfdd0",magenta:"#b845a5",paleturquoise:"#aee2ea",plum2:"#e3a6d6",red:"#ee2024",steelblue:"#3f7fbf",tan:"#cfa878",thistle1:"#f8dcef",thistle2:"#efcbe6",violet:"#c878be"};

/* ---------- helpers ---------- */
const NS="http://www.w3.org/2000/svg";
const fig=document.getElementById("fig");
function make(tag,parent,props){
  const e=document.createElementNS(NS,tag);
  for(const k in props)e.setAttribute(k,props[k]);
  parent.appendChild(e);
  return e;
}
function group(parent,name){
  const g=make("g",parent,{});
  
  
  return g;
}
function mix(a,b,t){return a.map((v,i)=>Math.round(v+(b[i]-v)*t));}
function heatColor(v){
  const white=[255,255,255],mid=[251,143,122],hot=[238,28,37],cold=[158,210,230];
  let c;
  if(v>=.2)c=mix(mid,hot,Math.min(1,(v-.2)/.2));
  else if(v>=0)c=mix(white,mid,v/.2);
  else c=mix(white,cold,Math.min(1,-v/.4));
  return "rgb("+c.join(",")+")";
}
/* a tree node is [height, left, right]; a leaf is an index */
function treeWalk(node,leafPos,toPath){
  if(typeof node==="number")return {p:leafPos(node),h:0};
  const a=treeWalk(node[1],leafPos,toPath),b=treeWalk(node[2],leafPos,toPath);
  toPath(a,b,node[0]);
  return {p:(a.p+b.p)/2,h:node[0]};
}
function drawHeatmap(cfg){
  const root=group(fig,cfg.name);
  const cols=cfg.values[0].length,rows=cfg.values.length;
  const cw=cfg.w/cols,rh=cfg.h/rows;
  const cells=group(root,cfg.name+"-cells");
  cfg.values.forEach((row,r)=>row.forEach((v,c)=>{
    const rect=make("rect",cells,{x:cfg.x+c*cw,y:cfg.y+r*rh,width:cw+.3,height:rh+.3,fill:heatColor(v),"shape-rendering":"crispEdges"});
    
    
  }));
  const rowG=group(root,cfg.name+"-row-labels");
  cfg.rowLabels.forEach((t,r)=>{
    const tx=make("text",rowG,{x:cfg.x+cfg.w+cfg.labelGap,y:cfg.y+(r+.5)*rh+2.5,"font-size":7.35,fill:"#3a3a3a"});
    tx.textContent=t;
    
    
  });
  const colG=group(root,cfg.name+"-column-labels");
  cfg.colLabels.forEach((parts,c)=>{
    const px=cfg.x+(c+.5)*cw+5,py=cfg.labelTop;
    const tx=make("text",colG,{transform:"translate("+px+","+py+") rotate(-90)","text-anchor":"end","font-size":11.5,fill:"#222"});
    
    
    parts.forEach((s,i)=>{
      if(!s)return;
      const italic=(s.indexOf("Ifnar")===0)||s==="Lgy";
      const sp=make("tspan",tx,{"font-style":italic?"italic":"normal"});
      sp.textContent=s;
    });
  });
  const strokeFor=h=>h>=cfg.strongH?"#a0a0a0":"#6e6e6e";
  const colD=group(root,cfg.name+"-column-dendrogram");
  treeWalk(cfg.colTree,i=>cfg.x+(i+.5)*cw,(a,b,h)=>{
    const y0=cfg.y-1.5;
    const d=make("path",colD,{d:"M"+a.p+" "+(y0-a.h)+"V"+(y0-h)+"H"+b.p+"V"+(y0-b.h),fill:"none",stroke:strokeFor(h),"stroke-width":.7});
    
    
  });
  const rowD=group(root,cfg.name+"-row-dendrogram");
  treeWalk(cfg.rowTree,i=>cfg.y+(i+.5)*rh,(a,b,h)=>{
    const x0=cfg.x-.8;
    const d=make("path",rowD,{d:"M"+(x0-a.h)+" "+a.p+"H"+(x0-h)+"V"+b.p+"H"+(x0-b.h),fill:"none",stroke:strokeFor(h+6),"stroke-width":h>=15?1.1:.7});
    
    
  });
  const leg=group(root,cfg.name+"-legend");
  const title=make("text",leg,{x:cfg.legX,y:cfg.legY,"font-size":5.9,"font-weight":"bold",fill:"#222"});
  title.textContent="ME average prediction";
  
  
  legendValues.forEach((v,i)=>{
    const sw=make("rect",leg,{x:cfg.legX,y:cfg.legY+4+i*cfg.legStep,width:6.5,height:cfg.legStep+.2,fill:heatColor(v),"shape-rendering":"crispEdges"});
    
    
    const lb=make("text",leg,{x:cfg.legX+8.7,y:cfg.legY+4+(i+.5)*cfg.legStep+2,"font-size":5.6,fill:"#333"});
    lb.textContent=v===0?"0":v.toFixed(1);
    
    
  });
}
function drawScatter(cfg){
  const root=group(fig,cfg.name);
  const X=k=>cfg.x0+k*cfg.xs,Y=r=>cfg.y0-r*cfg.ys;
  const grid=group(root,cfg.name+"-grid");
  function gridLine(x1,y1,x2,y2,w){
    const l=make("line",grid,{x1,y1,x2,y2,stroke:"#eeeef1","stroke-width":w});
    
    
  }
  cfg.xMinor.forEach(k=>gridLine(X(k),cfg.top,X(k),cfg.bottom,.8));
  cfg.yMinor.forEach(r=>gridLine(cfg.left,Y(r),cfg.right,Y(r),.8));
  cfg.xTicks.forEach(k=>gridLine(X(k),cfg.top,X(k),cfg.bottom,1.3));
  cfg.yTicks.forEach(r=>gridLine(cfg.left,Y(r),cfg.right,Y(r),1.3));
  const pts=group(root,cfg.name+"-points");
  cfg.series.forEach(s=>{
    const g=group(pts,"series-"+s[0]);
    const arr=s[1];
    for(let i=0;i+1<arr.length;i+=2){
      const c=make("circle",g,{cx:X(arr[i]),cy:Y(arr[i+1]),r:3,fill:seriesColor[s[0]]});
      
      
    }
  });
  const axes=group(root,cfg.name+"-axes");
  cfg.xTicks.forEach(k=>{
    const t=make("text",axes,{x:X(k),y:cfg.xTickY,"text-anchor":"middle","font-size":7.7,fill:"#7f7f7f"});
    t.textContent=String(k);
    
    
  });
  cfg.yTicks.forEach(r=>{
    const t=make("text",axes,{x:50,y:Y(r)+2.7,"text-anchor":"end","font-size":7.7,fill:"#7f7f7f"});
    t.textContent=r.toFixed(1);
    
    
  });
  const xt=make("text",axes,{x:cfg.xTitleX,y:cfg.xTitleY,"text-anchor":"middle","font-size":9.8,fill:"#2a2a2a"});
  xt.textContent="kTotal";
  
  
  const yt=make("text",axes,{transform:"translate(35,"+cfg.yTitleY+") rotate(-90)","text-anchor":"middle","font-size":9.9,fill:"#2a2a2a"});
  yt.textContent="adj.r.squared";
  
  
  const leg=group(root,cfg.name+"-legend");
  cfg.legend.forEach((n,i)=>{
    const col=i<cfg.legSplit?0:1,row=col?i-cfg.legSplit:i;
    const y=cfg.legY+row*15.34;
    const entry=group(leg,"legend-entry");
    const d=make("circle",entry,{cx:cfg.legDot[col],cy:y,r:2.6,fill:seriesColor[n]});
    
    
    const t=make("text",entry,{x:cfg.legText[col],y:y+2.7,"font-size":7.7,fill:"#333"});
    t.textContent=n;
    
    
  });
}
drawHeatmap({name:"heatmap-a",x:45,y:38,w:216,h:403.7,values:aValues,rowLabels:aRowLabels,colLabels:aColLabels,colTree:aColTree,rowTree:aRowTree,labelGap:3.5,labelTop:446,strongH:14.2,legX:321,legY:241.5,legStep:6.5});
drawHeatmap({name:"heatmap-b",x:460.3,y:37.3,w:217,h:396.4,values:bValues,rowLabels:bRowLabels,colLabels:bColLabels,colTree:bColTree,rowTree:bRowTree,labelGap:3.5,labelTop:437,strongH:13.8,legX:731,legY:237,legStep:6.5});
drawScatter({name:"scatter-c",x0:70,xs:.3217,y0:786.3,ys:188.25,left:55,right:406,top:587,bottom:847,xTicks:cXTicks,xMinor:cXMinor,yTicks:cYTicks,yMinor:cYMinor,series:cDrawOrder,xTickY:859,xTitleX:230,xTitleY:869,yTitleY:717,legend:cLegend,legSplit:19,legY:586,legDot:[428.3,509],legText:[441,521.7]});
drawScatter({name:"scatter-d",x0:70.3,xs:.6607,y0:1066.3,ys:165,left:55,right:417,top:892,bottom:1118,xTicks:dXTicks,xMinor:dXMinor,yTicks:dYTicks,yMinor:dYMinor,series:dDrawOrder,xTickY:1128,xTitleX:235,xTitleY:1138.5,yTitleY:1004,legend:dLegend,legSplit:16,legY:896.7,legDot:[439,514],legText:[451.7,526.7]});
</script>
</body></html>
